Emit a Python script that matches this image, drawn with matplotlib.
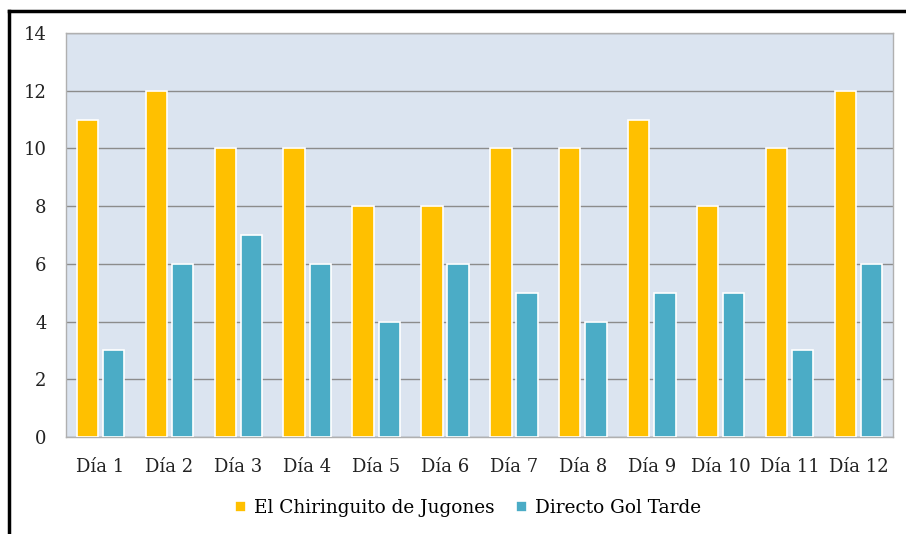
import matplotlib.pyplot as plt
import numpy as np

dias = ["Día 1", "Día 2", "Día 3", "Día 4", "Día 5", "Día 6",
        "Día 7", "Día 8", "Día 9", "Día 10", "Día 11", "Día 12"]
chiringuito = [11, 12, 10, 10, 8, 8, 10, 10, 11, 8, 10, 12]
gol_tarde = [3, 6, 7, 6, 4, 6, 5, 4, 5, 5, 3, 6]

plt.rcParams['font.family'] = ['DejaVu Serif']

fig = plt.figure(figsize=(9.06, 5.34), dpi=100)
ax = fig.add_axes([66/906, 1 - 437/534, (893-66)/906, (437-33)/534])

x = np.arange(len(dias))
w = 0.31
ax.bar(x - 0.19, chiringuito, w, color='#FFC000', edgecolor='white', linewidth=1.2,
       label='El Chiringuito de Jugones', zorder=3)
ax.bar(x + 0.19, gol_tarde, w, color='#4BACC6', edgecolor='white', linewidth=1.2,
       label='Directo Gol Tarde', zorder=3)

ax.set_facecolor('#DBE4F0')
ax.set_xlim(-0.5, len(dias) - 0.5)
ax.set_ylim(0, 14)
ax.set_yticks(range(0, 15, 2))
ax.set_xticks(x)
ax.set_xticklabels(dias)
ax.grid(axis='y', color='#8C8C8C', linewidth=1, zorder=0)
ax.tick_params(length=0, labelsize=13, colors='#222222')
ax.tick_params(axis='y', pad=14)
ax.tick_params(axis='x', pad=15)
for s in ax.spines.values():
    s.set_color('#B0B0B0')
    s.set_linewidth(1)

fig.legend(loc='center', bbox_to_anchor=(0.5 + 15/906, 1 - 508/534), ncol=2, frameon=False,
           fontsize=13.3, handlelength=0.6, handleheight=0.6, handletextpad=0.4,
           columnspacing=1.2)

# black frame (top and left only visible in the crop)
fig.add_artist(plt.Line2D([9/906, 1], [1 - 11/534, 1 - 11/534], color='black', lw=2.5))
fig.add_artist(plt.Line2D([9/906, 9/906], [0, 1 - 11/534], color='black', lw=2.5))

plt.savefig("out.png", dpi=100)
